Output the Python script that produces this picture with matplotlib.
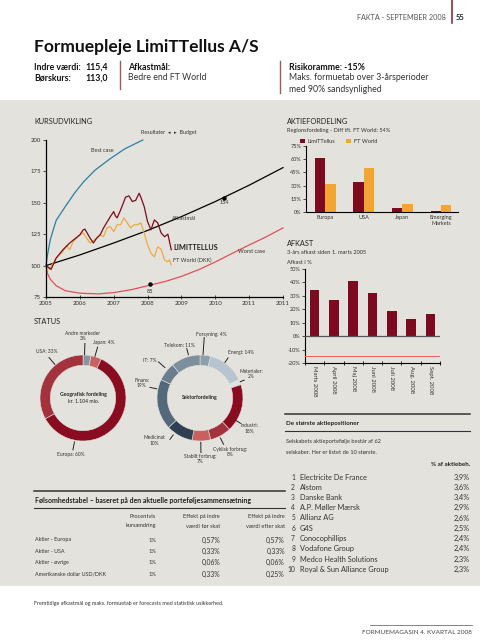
import matplotlib
matplotlib.use('Agg')
import matplotlib.pyplot as plt
import numpy as np
from matplotlib.lines import Line2D
from matplotlib.patches import Rectangle

plt.rcParams['font.family'] = ['Lato', 'DejaVu Sans']

# ---------------- data ----------------
# Kursudvikling
best_years = [2005.0, 2005.04, 2005.13, 2005.30, 2005.57, 2005.85, 2006.12, 2006.45, 2006.89, 2007.33, 2007.86]
best_vals = [100, 108, 121, 136, 147, 158, 167, 176, 185, 193, 200]

goal_years = [2005, 2006, 2007, 2008, 2009, 2010, 2011, 2012]
goal_vals = [100, 108.5, 118, 128, 139, 151, 164, 178]

worst_years = [2005.0, 2005.04, 2005.13, 2005.30, 2005.57, 2006.01, 2006.56, 2007.0, 2007.55, 2008.08,
               2008.54, 2009.01, 2009.53, 2010.01, 2010.52, 2011.01, 2011.51, 2012.0]
worst_vals = [100, 94, 89, 84, 80, 78, 77.5, 78.5, 81, 84.5, 87.5, 91.5, 97, 103, 110, 116.5, 123, 130]

limit_years = [2005.0, 2005.15, 2005.3, 2005.5, 2005.7, 2006.0, 2006.1, 2006.15, 2006.3, 2006.4, 2006.5, 2006.6,
               2006.7, 2006.9, 2007.0, 2007.05, 2007.1, 2007.2, 2007.35, 2007.45, 2007.55, 2007.65, 2007.75,
               2007.8, 2007.9, 2008.0, 2008.1, 2008.2, 2008.3, 2008.4, 2008.5, 2008.6, 2008.7]
limit_vals = [100, 97, 106, 112.6, 118, 124.5, 128.5, 129, 122, 118, 122, 124.5,
              130, 139, 143, 139.6, 138, 144, 154.5, 155.5, 151, 152, 157.6,
              154.5, 147, 135, 128.5, 136.4, 134, 126, 123, 125, 112.6]

ft_years = [2005.0, 2005.1, 2005.3, 2005.5, 2005.6, 2005.7, 2005.8, 2006.0, 2006.1, 2006.2, 2006.3, 2006.5,
            2006.6, 2006.7, 2006.8, 2006.9, 2007.0, 2007.1, 2007.2, 2007.3, 2007.4, 2007.5, 2007.6, 2007.7,
            2007.8, 2007.9, 2008.0, 2008.1, 2008.2, 2008.3, 2008.4, 2008.5, 2008.6, 2008.65, 2008.7]
ft_vals = [100, 97, 106, 111, 116, 112.6, 119, 124.5, 126, 122, 118, 122,
           124.5, 123, 130, 131, 127, 132.5, 132.5, 138, 134, 130, 132.5, 132.5,
           134, 126, 116.6, 110, 107, 115, 113, 104.6, 103, 104.6, 100.6]

marker_years = [2010.27, 2008.08]
marker_vals = [154, 85]

k_xticks = [2005, 2006, 2007, 2008, 2009, 2010, 2011, 2012]
k_xticklabels = ['2005', '2006', '2007', '2008', '2009', '2010', '2011', '2011']
k_yticks = [75, 100, 125, 150, 175, 200]

# Aktiefordeling
regions = ['Europa', 'USA', 'Japan', 'Emerging\nMarkets']
limit_region = [61, 34.5, 4, 1.5]
ftw_region = [32, 50.5, 9.5, 7.5]
region_yticks = [0, 15, 30, 45, 60, 75]

# Afkast
months = ['Marts 2008', 'April 2008', 'Maj 2008', 'Juni 2008', 'Juli 2008', 'Aug. 2008', 'Sept. 2008']
returns = [34.5, 27, 41.3, 32.3, 18.8, 12.8, 16.5]
risk_limit = -15
afkast_yticks = [-20, -10, 0, 10, 20, 30, 40, 50]

# Status
geo_labels = ['Andre markeder', 'Japan', 'Europa', 'USA']
geo_vals = [3, 4, 60, 33]
sector_labels = ['Forsyning', 'Energi', 'Materialer', 'Industri', 'Cyklisk forbrug', 'Stabilt forbrug',
                 'Medicinal', 'Finans', 'IT', 'Telekom']
sector_vals = [4, 14, 2, 18, 8, 7, 10, 19, 7, 11]

# Følsomhedstabel
sens_rows = ['Aktier - Europa', 'Aktier - USA', 'Aktier - øvrige', 'Amerikanske dollar USD/DKK']
sens_change = ['1%', '1%', '1%', '1%']
sens_before = ['0,57%', '0,33%', '0,06%', '0,33%']
sens_after = ['0,57%', '0,33%', '0,06%', '0,25%']

# Største aktiepositioner
top_names = ['Electricite De France', 'Alstom', 'Danske Bank', 'A.P. Møller Mærsk', 'Allianz AG', 'G4S',
             'Conocophillips', 'Vodafone Group', 'Medco Health Solutions', 'Royal & Sun Alliance Group']
top_pct = [3.9, 3.6, 3.4, 2.9, 2.6, 2.5, 2.4, 2.4, 2.3, 2.3]

# ---------------- styles ----------------
TXT = '#333333'
PANEL = '#e3e2dc'
MAROON = '#7d0a1e'
ORANGE = '#f2a531'
BLUE = '#2b7fa6'
RED = '#e0505a'
geo_colors = ['#8796a3', '#c9605f', '#8a0c20', '#a3323c']
sector_colors = ['#8d9fad', '#b7c3cd', '#dde1e4', '#8a0c20', '#a3323c', '#c9605f',
                 '#2d3f50', '#53687a', '#6a7e8f', '#7d8e9c']

W, H = 480, 640
fig = plt.figure(figsize=(4.8, 6.4), dpi=100)
fig.patch.set_facecolor('white')

L = 34      # left margin
RC = 287    # right column start
R = 470     # right edge


def fx(x):
    return x / W


def fy(y):
    return 1 - y / H


def rect(l, t, r, b):
    return [l / W, 1 - b / H, (r - l) / W, (b - t) / H]


def ftext(x, y, s, **kw):
    kw.setdefault('va', 'center')
    kw.setdefault('color', TXT)
    return fig.text(fx(x), fy(y), s, **kw)


def fline(x1, y1, x2, y2, **kw):
    fig.add_artist(Line2D([fx(x1), fx(x2)], [fy(y1), fy(y2)], transform=fig.transFigure, **kw))


fig.add_artist(Rectangle((0, fy(586)), 1, fy(100) - fy(586), transform=fig.transFigure,
                         facecolor=PANEL, edgecolor='none', zorder=-10))

# ---------------- header ----------------
ftext(446, 17, 'FAKTA - SEPTEMBER 2008', ha='right', size=5.2, color='#555555')
fline(452, 0, 452, 23, color='#8b1a2a', lw=1.1)
ftext(456, 17, '55', ha='left', size=5.5, weight='bold', color='#222222')
ftext(L, 47, 'Formuepleje LimiTTellus A/S', ha='left', size=12.5, weight='bold', color='#111111')
HS = 6.3
ftext(L, 67, 'Indre værdi:', ha='left', size=HS, weight='bold', color='#111111')
ftext(108, 67, '115,4', ha='right', size=HS, weight='bold', color='#111111')
ftext(L, 78, 'Børskurs:', ha='left', size=HS, weight='bold', color='#111111')
ftext(108, 78, '113,0', ha='right', size=HS, weight='bold', color='#111111')
fline(120, 61, 120, 89, color='#9c5a60', lw=1.0)
ftext(128, 67, 'Afkastmål:', ha='left', size=HS, weight='bold', color='#111111')
ftext(128, 78, 'Bedre end FT World', ha='left', size=HS)
fline(280, 61, 280, 93, color='#9c5a60', lw=1.0)
ftext(RC + 2, 67, f'Risikoramme: {risk_limit}%', ha='left', size=HS, weight='bold', color='#111111')
ftext(RC + 2, 78, 'Maks. formuetab over 3-årsperioder', ha='left', size=HS)
ftext(RC + 2, 89, 'med 90% sandsynlighed', ha='left', size=HS)

# ---------------- Kursudvikling ----------------
SEC = 5.3
ftext(L, 122, 'KURSUDVIKLING', ha='left', size=SEC, color='#222222')
ax = fig.add_axes(rect(46, 140, 283, 297))
ax.patch.set_visible(False)
for s in ['top', 'right']:
    ax.spines[s].set_visible(False)
for s in ['left', 'bottom']:
    ax.spines[s].set_linewidth(0.9)
ax.plot(best_years, best_vals, color=BLUE, lw=0.9, clip_on=False)
ax.plot(goal_years, goal_vals, color='black', lw=0.9, clip_on=False)
ax.plot(worst_years, worst_vals, color=RED, lw=0.9, clip_on=False)
ax.plot(ft_years, ft_vals, color=ORANGE, lw=0.8)
ax.plot(limit_years, limit_vals, color=MAROON, lw=0.9)
ax.plot(marker_years, marker_vals, 'o', color='black', ms=2.2)
ax.set_xlim(2005, 2012)
ax.set_ylim(75, 200)
ax.set_xticks(k_xticks)
ax.set_xticklabels(k_xticklabels)
ax.set_yticks(k_yticks)
ax.tick_params(labelsize=4.3, colors=TXT, length=2, width=0.6, pad=1.5)
ax.tick_params(axis='x', direction='inout', length=3)
ls = 4.0
ax.text(2006.67, 191.5, 'Best case', ha='center', va='center', size=ls, color=TXT)
ax.text(2009.09, 137.8, 'Afkastmål', ha='center', va='center', size=ls, color=TXT)
ax.text(marker_years[0], marker_vals[0] - 3.5, f'{marker_vals[0]}', ha='center', va='center', size=ls, color=TXT)
ax.text(marker_years[1], marker_vals[1] - 5.5, f'{marker_vals[1]}', ha='center', va='center', size=ls, color=TXT)
ax.text(limit_years[-1] + 0.06, 114.7, 'LIMITTELLUS', ha='left', va='center', size=5.2, weight='bold', color='#222222')
ax.text(ft_years[-1] + 0.04, 104, 'FT World (DKK)', ha='left', va='center', size=ls, color=TXT)
ax.text(2011.06, 111, 'Worst case', ha='center', va='center', size=ls, color=TXT)
ax.text(ft_years[-1] - 0.03, 205.6, 'Resultater  ◂', ha='right', va='center', size=3.9, color=TXT, clip_on=False)
ax.text(ft_years[-1] + 0.08, 205.6, '▸  Budget', ha='left', va='center', size=3.9, color=TXT, clip_on=False)

# ---------------- Aktiefordeling ----------------
ftext(RC, 121, 'AKTIEFORDELING', ha='left', size=SEC, color='#222222')
ftext(RC, 130.5, 'Regionsfordeling - Diff ift. FT World: 54%', ha='left', size=4.1)
ax2 = fig.add_axes(rect(306, 146, 458, 212))
ax2.patch.set_visible(False)
xr = np.arange(len(regions))
bw = 0.27
ax2.bar(xr - bw / 2, limit_region, bw, color=MAROON, label='LimiTTellus')
ax2.bar(xr + bw / 2, ftw_region, bw, color=ORANGE, label='FT World')
ax2.set_xlim(-0.5, 3.44)
ax2.set_ylim(0, 75)
ax2.set_yticks(region_yticks)
ax2.set_yticklabels([f'{v}%' for v in region_yticks])
ax2.set_xticks(xr)
ax2.set_xticklabels(regions)
for s in ['top', 'right']:
    ax2.spines[s].set_visible(False)
for s in ['left', 'bottom']:
    ax2.spines[s].set_linewidth(0.8)
ax2.tick_params(labelsize=4.0, colors=TXT, length=2, width=0.6, pad=1.5)
ax2.tick_params(axis='x', length=0, pad=2.5)
ax2.legend(loc='lower left', bbox_to_anchor=(-0.04, 1.03), ncol=2, frameon=False, fontsize=4.1,
           handlelength=0.9, handleheight=0.9, handletextpad=0.4, columnspacing=2.0,
           borderpad=0, borderaxespad=0, labelcolor=TXT)

# ---------------- Afkast ----------------
ftext(RC, 243, 'AFKAST', ha='left', size=SEC, color='#222222')
ftext(RC, 253, '3-års afkast siden 1. marts 2005', ha='left', size=4.1)
ftext(RC, 263, 'Afkast i %', ha='left', size=4.1)
ax3 = fig.add_axes(rect(305, 269, 440, 363))
ax3.patch.set_visible(False)
xm = np.arange(len(months))
ax3.bar(xm, returns, 0.5, color=MAROON, zorder=2)
ax3.axhline(0, color='#555555', lw=0.9, zorder=3)
ax3.axhline(risk_limit, color='#e8604f', lw=0.7, zorder=3)
ax3.set_xlim(-0.5, len(months) - 0.5)
ax3.set_ylim(-20, 50)
ax3.set_yticks(afkast_yticks)
ax3.set_yticklabels([f'{v}%' for v in afkast_yticks])
ax3.set_xticks(xm)
ax3.set_xticklabels(months, rotation=270)
ax3.set_xticks(np.arange(-0.5, len(months), 1), minor=True)
for s in ['top', 'right']:
    ax3.spines[s].set_visible(False)
for s in ['left', 'bottom']:
    ax3.spines[s].set_linewidth(0.8)
ax3.tick_params(labelsize=4.0, colors=TXT, length=2, width=0.6, pad=1.5)
ax3.tick_params(axis='x', which='major', length=0, pad=2, labelsize=4.3)
ax3.tick_params(axis='x', which='minor', length=3, direction='inout', width=0.6)

# ---------------- Status donuts ----------------
ftext(L, 322, 'STATUS', ha='left', size=SEC, color='#222222')
RPX = 43.0


def donut(cx, cy, vals, colors, labels, seps, t_ang, t_r, l_ang, l_r, center_lines):
    half = 78
    a = fig.add_axes(rect(cx - half, cy - half, cx + half, cy + half))
    a.pie(vals, colors=colors, startangle=90, counterclock=False, radius=1,
          wedgeprops=dict(width=0.24, edgecolor=PANEL, linewidth=0.4))
    lim = half / RPX
    a.set_xlim(-lim, lim)
    a.set_ylim(-lim, lim)
    a.set_aspect('equal')
    a.axis('off')
    for lab, v, sep, ta, tr, la, (r1, r2) in zip(labels, vals, seps, t_ang, t_r, l_ang, l_r):
        th = np.deg2rad(la)
        a.plot([r1 * np.sin(th), r2 * np.sin(th)], [r1 * np.cos(th), r2 * np.cos(th)],
               color='#222222', lw=0.7, clip_on=False, solid_capstyle='butt')
        tt = np.deg2rad(ta)
        a.text(tr * np.sin(tt), tr * np.cos(tt), f'{lab}{sep}{v}%', ha='center', va='center',
               multialignment='center', size=3.5, color=TXT, clip_on=False, linespacing=1.05)
    for txt, dy, wt in center_lines:
        a.text(0, dy, txt, ha='center', va='center', size=3.7, weight=wt, color='#222222')
    return a


donut(83, 398, geo_vals, geo_colors, geo_labels,
      ['\n', ': ', ': ', ': '],
      [0, 20, 192, 322], [1.45, 1.38, 1.35, 1.36],
      [2, 16, 191, 320], [(1.0, 1.28), (1.0, 1.24), (1.03, 1.24), (1.01, 1.24)],
      [('Geografisk fordeling', 0.08, 'bold'), ('kr. 1.104 mio.', -0.08, 'normal')])

donut(200, 398, sector_vals, sector_colors, sector_labels,
      [': ', ': ', ':\n', ':\n', ':\n', ':\n', ':\n', ':\n', ': ', ': '],
      [10, 41.7, 65, 121.5, 151, 180, 227, 284.5, 307, 339],
      [1.51, 1.43, 1.31, 1.36, 1.44, 1.42, 1.45, 1.40, 1.46, 1.32],
      [4, 35, 68, 122, 153, 179, 216, 282, 311, 345],
      [(1.0, 1.42), (1.0, 1.15), (1.0, 1.12), (0.98, 1.12), (1.03, 1.22), (1.02, 1.28),
       (1.05, 1.2), (1.02, 1.2), (1.07, 1.29), (1.03, 1.2)],
      [('Sektorfordeling', 0.0, 'bold')])

# ---------------- Følsomhedstabel ----------------
TR = 285
fline(L, 491, TR, 491, color='#333333', lw=1.1)
ftext(L + 1, 500.5, 'Følsomhedstabel – baseret på den aktuelle porteføljesammensætning', ha='left',
      size=5.0, weight='bold', color='#222222')
fline(L, 508, TR, 508, color='#333333', lw=0.8)
hdr = [(156, 'Procentvis', 'kursændring'), (220, 'Effekt på indre', 'værdi før skat'),
       (TR, 'Effekt på indre', 'værdi efter skat')]
for xh, l1, l2 in hdr:
    ftext(xh, 516.5, l1, ha='right', size=4.1)
    ftext(xh, 526, l2, ha='right', size=4.1)
for i, (rname, c, b, a) in enumerate(zip(sens_rows, sens_change, sens_before, sens_after)):
    yy = 540 + i * 11.4
    ftext(L + 1, yy, rname, ha='left', size=3.9)
    ftext(156, yy, c, ha='right', size=4.1)
    ftext(220, yy, b, ha='right', size=4.9)
    ftext(TR, yy, a, ha='right', size=4.9)

# ---------------- Største aktiepositioner ----------------
fline(RC - 2, 414, R, 414, color='#333333', lw=1.1)
ftext(RC - 1, 423, 'De største aktiepositioner', ha='left', size=4.5, weight='bold', color='#222222')
fline(RC - 2, 431, R, 431, color='#333333', lw=0.8)
ftext(RC - 1, 441, 'Selskabets aktieportefølje består af 62', ha='left', size=4.1)
ftext(RC - 1, 452, f'selskaber. Her er listet de {len(top_names)} største.', ha='left', size=4.1)
ftext(R, 465, '% af aktiebeh.', ha='right', size=4.5, weight='bold', color='#222222')
for i, (nm, p) in enumerate(zip(top_names, top_pct)):
    yy = 477 + i * 10.25
    ftext(RC + 8, yy, f'{i + 1}', ha='right', size=4.8)
    ftext(RC + 13, yy, nm, ha='left', size=5.3)
    ftext(R, yy, f'{p:.1f}%'.replace('.', ','), ha='right', size=5.3)

# ---------------- footer ----------------
ftext(L, 604, 'Fremtidige afkastmål og maks. formuetab er forecasts med statistisk usikkerhed.',
      ha='left', size=3.9)
fline(370, 625, 472, 625, color='#555555', lw=0.5)
ftext(472, 632, 'FORMUEMAGASIN 4. KVARTAL 2008', ha='right', size=4.6, color='#444444')

fig.savefig('out.png', dpi=100, facecolor='white')
